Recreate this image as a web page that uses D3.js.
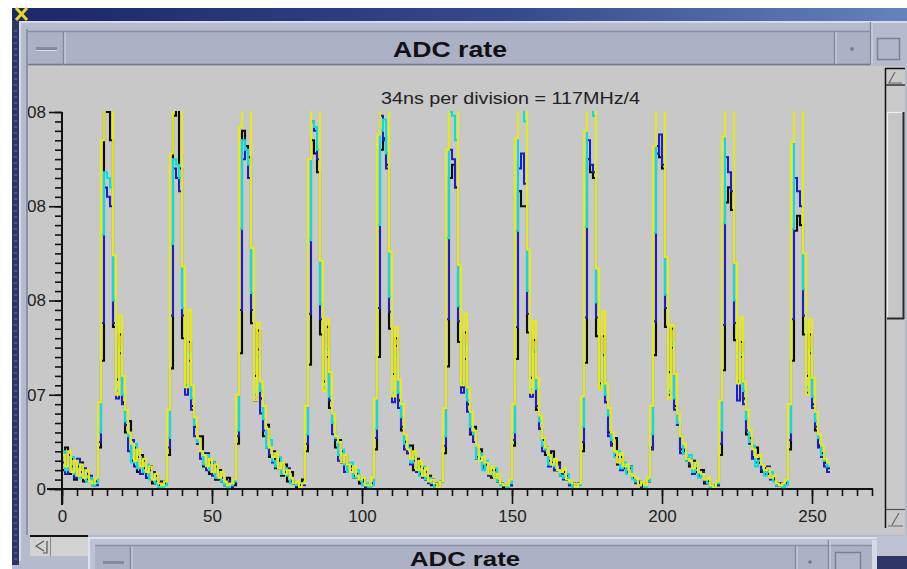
<!DOCTYPE html>
<html><head><meta charset="utf-8">
<script src="https://cdn.jsdelivr.net/npm/d3@7"></script>
<style>body{margin:0;background:#fff}svg{display:block}text{font-family:"Liberation Sans",Arial,sans-serif}</style>
</head><body><svg id="c" width="907" height="569"></svg>
<script>
// ---- data (values in units of 1e6 counts, one value per ADC bin 0..255) ----
const yellowSeries = [
18,12,20,9,15,7,13,6,10,4,3,
6,46,185,240,240,235,124,50,92,60,42,30,24,15,21,12,16,9,12,5,8,3,2,
4,42,178,240,240,228,118,54,95,55,38,27,20,18,12,16,9,13,6,9,4,2,3,
5,50,192,240,240,240,128,47,88,57,44,32,22,17,19,11,14,8,10,6,3,4,1,
3,44,175,240,240,220,121,52,90,62,40,28,25,14,18,13,9,12,7,5,6,2,2,
6,48,188,240,240,232,126,49,86,58,45,29,21,16,20,10,15,7,11,4,5,3,1,
4,43,180,240,240,225,119,55,93,54,41,31,23,15,17,14,8,12,6,8,3,2,2,
5,45,186,240,240,238,127,51,89,59,39,27,22,18,13,16,10,9,11,5,4,3,1,
3,49,190,240,240,222,117,53,94,56,43,30,20,14,19,12,13,8,7,6,2,4,2,
6,44,182,240,240,230,123,48,87,61,40,28,24,16,15,11,14,9,8,5,6,2,1,
4,47,187,240,240,226,120,56,91,57,42,31,21,17,18,13,10,11,6,7,3,2,3,
5,45,184,240,240,234,125,50,90,59,41,29,23,16,14];
const cyanSeries = [
20,10,14,17,8,13,6,10,4,6,2,
3,30,135,168,165,160,100,52,75,50,36,28,14,24,11,16,9,13,5,8,3,1,1,
2,27,130,175,172,165,96,55,72,48,34,25,20,13,18,10,14,6,9,4,2,1,2,
4,31,138,185,180,172,104,50,70,52,37,22,26,15,12,17,8,11,7,3,4,2,1,
3,29,132,195,192,180,98,54,74,49,35,27,18,21,13,9,14,6,10,5,2,3,1,
2,32,140,190,196,178,102,51,71,51,38,24,22,14,17,11,7,12,5,6,3,1,2,
4,28,133,200,198,185,97,56,76,47,33,29,16,19,10,15,9,8,11,4,2,2,1,
3,30,137,215,205,195,105,53,73,53,36,23,21,13,16,12,10,7,6,8,3,1,1,
2,33,139,210,212,198,99,55,70,50,39,26,17,20,11,14,8,12,5,4,2,3,1,
4,29,136,225,218,205,103,52,77,48,35,28,19,15,18,9,13,6,8,5,3,1,2,
3,31,141,230,226,210,100,57,72,52,37,25,23,12,15,13,7,10,9,4,2,2,1,
2,30,138,230,228,212,106,54,74,49,36,27,18,15,12];
const blueSeries = [
14,8,18,12,6,16,9,11,5,7,3,
2,25,88,160,155,150,88,48,72,45,34,20,26,12,17,8,15,6,10,9,4,3,1,
3,22,92,170,165,158,92,50,68,42,28,24,16,19,10,14,7,12,5,6,2,4,1,
4,28,95,175,180,165,95,47,74,40,31,22,18,14,12,16,8,9,11,4,3,2,2,
2,24,93,195,190,175,90,52,70,47,29,26,15,20,9,13,10,7,8,5,4,1,2,
3,27,96,198,185,170,94,46,76,43,33,21,19,13,15,9,12,6,9,3,5,2,1,
4,23,90,180,175,160,89,51,69,41,30,25,17,16,11,14,7,10,6,4,3,2,1,
2,26,86,170,178,162,93,49,73,44,32,20,22,12,14,10,13,8,5,7,2,3,1,
3,25,91,185,172,168,91,53,71,46,28,23,18,17,10,12,9,11,6,3,4,1,2,
4,21,89,178,188,172,96,50,75,42,34,19,21,15,13,8,11,7,9,4,3,2,1,
2,24,87,176,168,158,88,47,70,45,31,24,16,14,16,10,8,12,5,6,2,3,1,
3,26,90,165,158,150,92,51,72,43,33,22,17,12,9];
const blackSeries = [
10,22,8,16,5,12,14,4,8,6,2,
4,22,68,205,200,185,86,58,82,46,30,36,15,22,9,18,11,6,12,3,7,2,4,
3,18,64,198,202,170,80,55,78,44,33,24,28,12,19,8,14,5,10,4,2,6,1,
2,24,72,190,182,176,88,60,84,48,28,34,17,20,11,15,7,13,4,9,3,1,2,
5,20,66,185,178,168,82,57,86,43,35,22,26,14,18,9,12,6,8,3,5,2,1,
3,21,70,180,186,172,85,61,80,47,31,25,19,23,10,16,8,11,5,7,2,3,1,
4,19,65,165,172,160,78,54,83,45,29,33,16,21,12,13,9,6,10,4,3,1,2,
2,23,69,158,150,150,83,59,79,42,32,26,18,15,20,10,14,7,9,5,2,3,1,
3,20,67,175,168,165,81,56,81,46,30,24,27,13,17,11,8,12,6,4,3,2,1,
4,22,71,182,176,170,86,62,85,44,34,21,20,16,12,15,9,7,10,3,4,1,2,
2,18,63,152,160,148,79,57,78,48,29,27,17,22,14,9,11,8,6,5,2,3,1,
3,21,68,137,145,140,82,60,82,45,31,23,19,14,11];
// drawing order: black first, yellow last
const seriesNames = ["black", "blue", "cyan", "yellow"];
const seriesColors = ["#0a0a0a", "#1c1cd6", "#00e2e2", "#eded00"];
const seriesWidths = [2.1, 2.0, 2.0, 1.9];
const xTickValues = [0, 50, 100, 150, 200, 250];
const yTickValues = [0, 50, 100, 150, 200];
const yTickLabels = ["0", "07", "08", "08", "08"];   // as visible (left part hidden by the window frame)
const windowTitle = "ADC rate";
const plotTitle = "34ns per division = 117MHz/4";

// ---- drawing ----
const svg = d3.select("#c");
const defs = svg.append("defs");
const g1 = defs.append("linearGradient").attr("id","tb").attr("x1",0).attr("x2",1).attr("y1",0).attr("y2",0);
g1.append("stop").attr("offset","0%").attr("stop-color","#1a276a");
g1.append("stop").attr("offset","55%").attr("stop-color","#34498c");
g1.append("stop").attr("offset","100%").attr("stop-color","#6482bb");
defs.append("clipPath").attr("id","panelClip").append("rect").attr("x",28).attr("y",66).attr("width",855).attr("height",469);
defs.append("clipPath").attr("id","plotClip").append("rect").attr("x",62).attr("y",111).attr("width",812).attr("height",380);
defs.append("filter").attr("id","soft").attr("x","-2%").attr("y","-2%").attr("width","104%").attr("height","104%")
  .append("feGaussianBlur").attr("stdDeviation",0.45);

const R = (x,y,w,h,f)=>svg.append("rect").attr("x",x).attr("y",y).attr("width",w).attr("height",h).attr("fill",f);
const L = (x1,y1,x2,y2,c,w)=>svg.append("line").attr("x1",x1).attr("y1",y1).attr("x2",x2).attr("y2",y2).attr("stroke",c).attr("stroke-width",w||1);

R(0,0,907,569,"#ffffff");
// outer window title bar
R(12,8,895,13,"url(#tb)");
svg.append("path").attr("d","M16,20 L27,8 M16,8 L27,20").attr("stroke","#e8d820").attr("stroke-width",3);
// outer frame
R(12,21,895,548,"#b6bacd");
R(12,21,7,544,"#2e3668");
for(let yy=30; yy<560; yy+=6){ R(14,yy,3,2,"#4a5288"); }
R(19,21,888,2,"#d6d9e7");
R(19,21,2,540,"#d6d9e7");
R(26,29,2,506,"#8e92a6");
// inner title bar
R(28,31,842,34,"#adb1c6");
L(28,31.5,870,31.5,"#8a8ea2",1.5);
L(28,64.5,870,64.5,"#74788c",1.5);
L(63.5,31,63.5,65,"#84889c",1.5); L(65,32,65,64,"#d0d4e2",1);
R(36,47,21,3,"#868a9e"); R(36,50,21,1,"#d8dbe8");
L(834.5,31,834.5,65,"#84889c",1.5); L(836,32,836,64,"#d0d4e2",1);
svg.append("circle").attr("cx",852).attr("cy",49).attr("r",1.8).attr("fill","#74788c");
L(870.5,22,870.5,65,"#84889c",1.5); L(872,22,872,65,"#d6d9e7",1);
svg.append("rect").attr("x",877.5).attr("y",38.5).attr("width",22).attr("height",21).attr("fill","#b2b6ca").attr("stroke","#7c8094").attr("stroke-width",1.5);
svg.append("text").attr("x",450).attr("y",57).attr("text-anchor","middle").attr("font-size",22).attr("font-weight","bold")
  .attr("fill","#111").attr("textLength",114).attr("lengthAdjust","spacingAndGlyphs").text(windowTitle);
// plot panel
R(28,66,877,469,"#c8c8c8");

// vertical scrollbar
R(885,68,20,460,"#cacaca");
L(885.5,68,885.5,528,"#111",1.5); L(885,68.5,905,68.5,"#111",1.5);
svg.append("path").attr("d","M895,72 L889,83 L902,83").attr("fill","none").attr("stroke","#666").attr("stroke-width",1.2);
L(886,85,905,85,"#333",1.5);
R(887,112,17,206,"#c6c6c6");
L(887,112.5,903,112.5,"#eeeeee",1.2); L(887.5,112,887.5,318,"#eeeeee",1.2);
L(903.5,112,903.5,319,"#2a2a2a",2); L(887,318.5,904,318.5,"#2a2a2a",2);
L(886,509.5,905,509.5,"#555",1.2);
svg.append("path").attr("d","M892,525 L899,513 M888,526 L903,526").attr("fill","none").attr("stroke","#666").attr("stroke-width",1.2);
R(905,66,2,470,"#b6bacd");

// horizontal scrollbar (bottom-left)
R(30,535,58,2,"#111");
R(30,537,58,19,"#d2d2d2");
svg.append("path").attr("d","M44,541 L36,546 L44,551 M47,541 L47,553 L43,553").attr("fill","none").attr("stroke","#555").attr("stroke-width",1.2);
L(50.5,537,50.5,556,"#888",1);

// lower overlapping window
R(88,537,789,32,"#bec2d5");
R(88,537,789,2,"#dfe2ec"); R(88,537,2,32,"#dfe2ec");
R(95,545,777,24,"#adb1c6");
L(95,545.5,872,545.5,"#8a8ea2",1.5);
L(130.5,545,130.5,569,"#84889c",1.5); L(132,546,132,569,"#d0d4e2",1);
R(103,561,21,3,"#868a9e");
L(795.5,545,795.5,569,"#84889c",1.5); L(797,546,797,569,"#d0d4e2",1);
svg.append("circle").attr("cx",810).attr("cy",562).attr("r",1.8).attr("fill","#74788c");
L(828.5,540,828.5,569,"#84889c",1.5); L(830,540,830,569,"#d6d9e7",1);
svg.append("rect").attr("x",835.5).attr("y",552.5).attr("width",25).attr("height",20).attr("fill","#b2b6ca").attr("stroke","#7c8094").attr("stroke-width",1.5);
R(872,540,5,29,"#d6d9e7");
R(877,536,30,20,"#bec2d5");
R(877,556,30,13,"#2e3668");
svg.append("text").attr("x",465).attr("y",566).attr("text-anchor","middle").attr("font-size",21).attr("font-weight","bold")
  .attr("fill","#111").attr("textLength",110).attr("lengthAdjust","spacingAndGlyphs").text(windowTitle);

// ---- chart ----
const x = d3.scaleLinear().domain([0,270]).range([62,872]);
const y = d3.scaleLinear().domain([0,200]).range([489,112]);
const panel = svg.append("g").attr("clip-path","url(#panelClip)");

panel.append("text").attr("x",510.5).attr("y",104).attr("text-anchor","middle").attr("font-size",16)
  .attr("fill","#222").attr("textLength",259).attr("lengthAdjust","spacingAndGlyphs").text(plotTitle);

const plot = panel.append("g").attr("clip-path","url(#plotClip)").append("g").attr("filter","url(#soft)");
const line = d3.line().x(d=>x(d[0])).y(d=>y(d[1])).curve(d3.curveStepAfter);
const allSeries = [blackSeries, blueSeries, cyanSeries, yellowSeries];
allSeries.forEach((s,k)=>{
  const pts = s.map((v,i)=>[i,v]).concat([[s.length, s[s.length-1]]]);
  plot.append("path").datum(pts).attr("d",line).attr("fill","none").attr("class","series-"+seriesNames[k])
    .attr("stroke",seriesColors[k]).attr("stroke-width",seriesWidths[k]).attr("stroke-linejoin","miter");
});

function styleAxis(g){
  g.select(".domain").remove();
  g.selectAll(".tick line").attr("stroke","#111").attr("stroke-width",1.6);
  g.selectAll(".tick text").attr("fill","#222").attr("font-size",17).attr("font-family","Liberation Sans, Arial, sans-serif");
}
const xMinor = d3.range(0,271,5);
panel.append("g").attr("transform","translate(0,489)")
  .call(d3.axisBottom(x).tickValues(xMinor).tickSize(7).tickFormat("")).call(styleAxis);
panel.append("g").attr("transform","translate(0,489)")
  .call(d3.axisBottom(x).tickValues(xTickValues).tickSize(15).tickPadding(6).tickFormat(d3.format("d"))).call(styleAxis);
const yMinor = d3.range(0,201,5);
panel.append("g").attr("transform","translate(62,0)")
  .call(d3.axisLeft(y).tickValues(yMinor).tickSize(7).tickFormat("")).call(styleAxis);
panel.append("g").attr("transform","translate(62,0)")
  .call(d3.axisLeft(y).tickValues(yTickValues).tickSize(13).tickPadding(3).tickFormat((d,i)=>yTickLabels[i])).call(styleAxis);
panel.append("line").attr("x1",47).attr("x2",873).attr("y1",y(0)).attr("y2",y(0)).attr("stroke","#111").attr("stroke-width",2);
panel.append("line").attr("x1",x(0)).attr("x2",x(0)).attr("y1",y(200)).attr("y2",505).attr("stroke","#111").attr("stroke-width",2);
</script></body></html>
